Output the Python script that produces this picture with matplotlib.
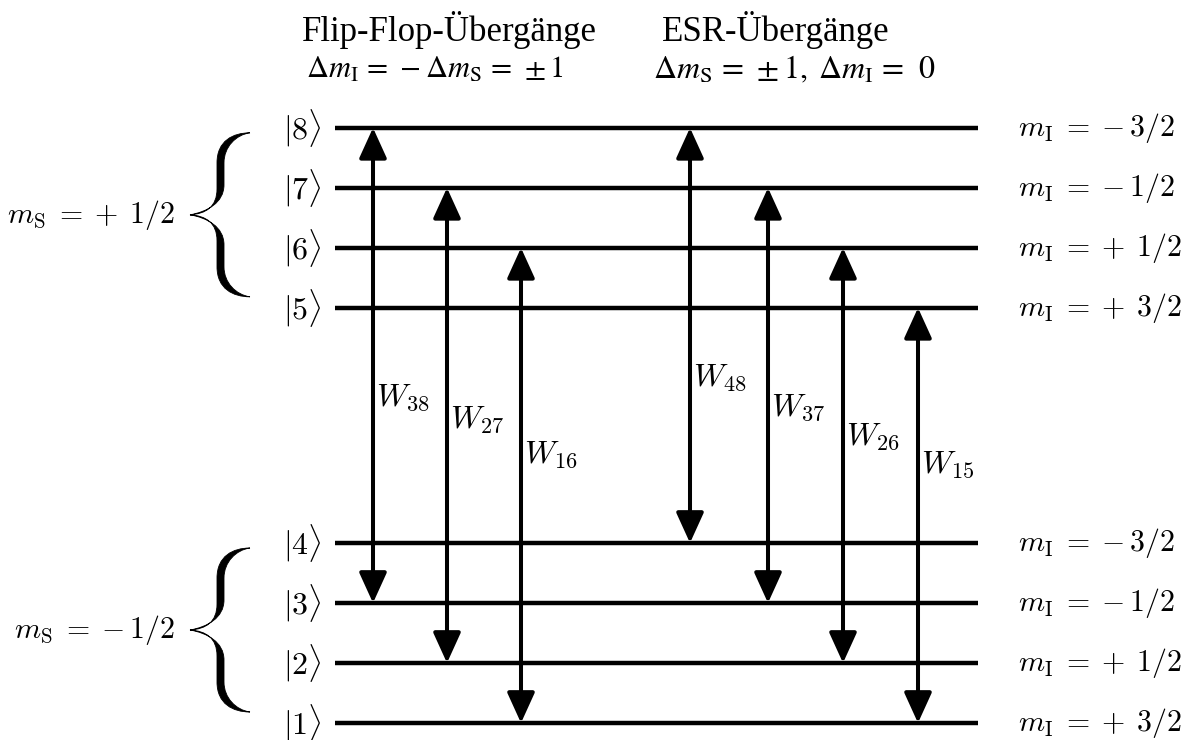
import matplotlib
matplotlib.use("Agg")
import matplotlib.pyplot as plt
from matplotlib.path import Path
from matplotlib.patches import PathPatch

plt.rcParams['mathtext.fontset'] = 'cm'
plt.rcParams['font.family'] = 'Liberation Serif'

# level energies (arbitrary units), index 0 -> |1>
levels = [1, 2, 3, 4, 5, 6, 7, 8]
energies = [0.0, 1.0, 2.0, 3.0, 6.92, 7.92, 8.92, 9.92]
m_I = ['+', '+', '-', '-', '+', '+', '-', '-']
m_I_val = ['3/2', '1/2', '1/2', '3/2', '3/2', '1/2', '1/2', '3/2']
m_S = ['-', '+']
groups = [[1, 2, 3, 4], [5, 6, 7, 8]]

# transitions (lower, upper)
flipflop = [(3, 8), (2, 7), (1, 6)]
esr = [(4, 8), (3, 7), (2, 6), (1, 5)]

E = dict(zip(levels, energies))

fig = plt.figure(figsize=(11.9, 7.4), dpi=100)
ax = fig.add_axes([0, 0, 1, 1])
ax.set_xlim(0, 1190)
ax.set_ylim(-17 / 60, 723 / 60)
ax.axis('off')

px = 1 / 60  # one pixel in energy units
fs = 23      # W labels
fs_m = 21.5  # quantum number labels


def sign(s):
    return r'\;=\;{+}\;\,' if s == '+' else r'\;=\;{-}\,'


# levels
for n, e, s, v in zip(levels, energies, m_I, m_I_val):
    ax.plot([335, 978], [e, e], color='k', lw=3.2, solid_capstyle='butt')
    ax.text(322, e, r'$|%d\rangle$' % n, ha='right', va='center', fontsize=23)
    ax.text(1018, e, r'$m_\mathrm{I} %s %s$' % (sign(s), v), ha='left', va='center', fontsize=fs_m)

# arrows
xs_ff = [373, 447, 521]
xs_esr = [690, 768, 843, 918]
lab_off = [3.42, 4.05, 4.47]
lab_off_esr = [2.75, 3.25, 3.77, 4.3]
for (lo, hi), x, dy in list(zip(flipflop, xs_ff, lab_off)) + list(zip(esr, xs_esr, lab_off_esr)):
    ax.annotate('', xy=(x, E[hi]), xytext=(x, E[lo]),
                arrowprops=dict(arrowstyle='<|-|>,head_length=0.55,head_width=0.25',
                                mutation_scale=34, lw=2.9, color='k',
                                shrinkA=0, shrinkB=0))
    ax.text(x + 3, E[lo] + dy, r'$W_{%d%d}$' % (lo, hi), ha='left', va='center', fontsize=fs)


# curly brace drawn in pixel space (y down), then mapped to energy units
def brace(top, bot):
    yc = (top + bot) / 2
    M, C, L = Path.MOVETO, Path.CURVE4, Path.LINETO
    # (x, reference, offset)
    half = [
        (250, 't', 0, M),
        (233, 't', 0, C), (217, 't', 8, C), (217, 't', 30, C),
        (217, 'c', -26, L),
        (217, 'c', -8, C), (206, 'c', -1, C), (190, 'c', 0.001, C),
        (207, 'c', -3, C), (224, 'c', -12, C), (224, 'c', -30, C),
        (224, 't', 30, L),
        (224, 't', 14, C), (236, 't', 2, C), (250, 't', 0, C),
    ]
    verts, codes = [], []
    for flip in (1, -1):
        for x, ref, dy, code in half:
            y = (top if ref == 't' else yc) + dy
            if flip == -1:
                y = 2 * yc - y
            verts.append((x, (723 - y) / 60))
            codes.append(code)
    ax.add_patch(PathPatch(Path(verts, codes), facecolor='k', edgecolor='k', lw=0.6))


for g, s in zip(groups, m_S):
    top = 723 - 60 * E[g[-1]] + 5
    bot = 723 - 60 * E[g[0]] - 11
    brace(top, bot)
    yc = (723 - (top + bot) / 2) / 60
    ax.text(175, yc, r'$m_\mathrm{S} %s 1/2$' % sign(s), ha='right', va='center', fontsize=fs_m)

# headers
ytop = 723 / 60
ax.text(449, ytop - 30 * px, 'Flip-Flop-Übergänge', ha='center', va='center', fontsize=25)
ax.text(435, ytop - 70 * px, r'$\Delta m_\mathrm{I}\,=\,-\Delta m_\mathrm{S}\,=\,\pm 1$',
        ha='center', va='center', fontsize=22, math_fontfamily='stix')
ax.text(776, ytop - 30 * px, 'ESR-Übergänge', ha='center', va='center', fontsize=25)
ax.text(794, ytop - 70 * px, r'$\Delta m_\mathrm{S}\,=\,\pm 1,\;\Delta m_\mathrm{I}\,=\;\,0$',
        ha='center', va='center', fontsize=23, math_fontfamily='stix')

fig.savefig('out.png', dpi=100)
